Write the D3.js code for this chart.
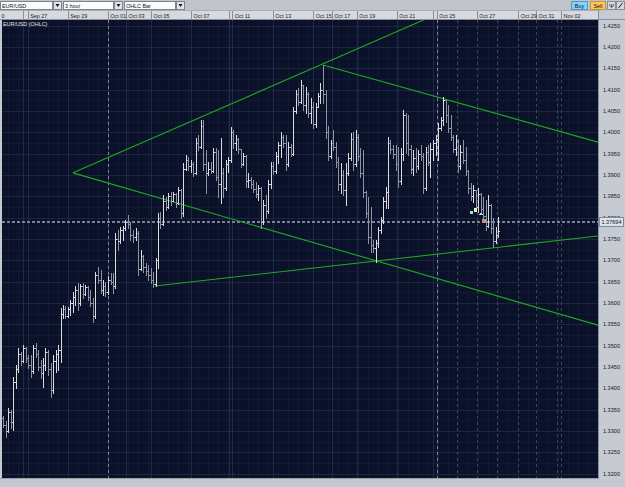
<!DOCTYPE html>
<html><head><meta charset="utf-8">
<script src="https://cdn.jsdelivr.net/npm/d3@7"></script>
<style>body{margin:0;background:#c4c8d0;}svg{display:block;font-family:"Liberation Sans",Arial,sans-serif;}</style>
</head><body><svg id="c" width="625" height="487"></svg>
<script>
// ---- data (EUR/USD, 3 hour OHLC) ----
const opens=[1.3330,1.3315,1.3300,1.3345,1.3320,1.3415,1.3445,1.3480,1.3465,1.3495,1.3470,1.3455,1.3440,1.3495,1.3480,1.3450,1.3435,1.3455,1.3485,1.3445,1.3395,1.3465,1.3480,1.3490,1.3575,1.3585,1.3570,1.3585,1.3600,1.3615,1.3630,1.3600,1.3640,1.3620,1.3638,1.3615,1.3600,1.3570,1.3665,1.3655,1.3630,1.3640,1.3625,1.3655,1.3650,1.3640,1.3750,1.3745,1.3770,1.3775,1.3790,1.3785,1.3760,1.3755,1.3765,1.3680,1.3710,1.3685,1.3675,1.3665,1.3655,1.3645,1.3700,1.3800,1.3785,1.3840,1.3825,1.3850,1.3840,1.3855,1.3835,1.3865,1.3810,1.3915,1.3935,1.3920,1.3925,1.3905,1.3975,1.3965,1.4015,1.3925,1.3905,1.3915,1.3910,1.3955,1.3895,1.3880,1.3905,1.3870,1.3925,1.3935,1.4000,1.3975,1.3985,1.3960,1.3925,1.3945,1.3885,1.3888,1.3878,1.3868,1.3855,1.3870,1.3790,1.3830,1.3815,1.3880,1.3920,1.3910,1.3945,1.3970,1.3990,1.3975,1.3925,1.3965,1.3950,1.4050,1.4090,1.4070,1.4110,1.4065,1.4090,1.4045,1.4060,1.4020,1.4060,1.4085,1.4100,1.4090,1.4000,1.3945,1.3975,1.3965,1.3930,1.3880,1.3900,1.3865,1.3905,1.3940,1.3985,1.3925,1.3990,1.3945,1.3905,1.3860,1.3810,1.3755,1.3735,1.3728,1.3740,1.3770,1.3795,1.3840,1.3860,1.3975,1.3960,1.3950,1.3925,1.3885,1.3950,1.4040,1.3975,1.3960,1.3915,1.3940,1.3920,1.3950,1.3945,1.3870,1.3955,1.3930,1.3960,1.3975,1.3985,1.4010,1.4030,1.4075,1.4040,1.4010,1.3990,1.3960,1.3980,1.3920,1.3955,1.3935,1.3910,1.3870,1.3850,1.3865,1.3825,1.3855,1.3820,1.3805,1.3780,1.3830,1.3775,1.3745,1.3760];
const highs=[1.3335,1.3323,1.3354,1.3349,1.3426,1.3455,1.3495,1.3485,1.3502,1.3498,1.3479,1.3479,1.3502,1.3506,1.3490,1.3467,1.3471,1.3495,1.3490,1.3460,1.3479,1.3490,1.3502,1.3588,1.3595,1.3593,1.3590,1.3607,1.3626,1.3640,1.3647,1.3645,1.3647,1.3642,1.3640,1.3631,1.3612,1.3673,1.3685,1.3678,1.3654,1.3650,1.3664,1.3671,1.3671,1.3764,1.3771,1.3778,1.3780,1.3795,1.3806,1.3790,1.3771,1.3776,1.3768,1.3724,1.3712,1.3694,1.3689,1.3682,1.3673,1.3706,1.3811,1.3813,1.3853,1.3848,1.3858,1.3860,1.3860,1.3858,1.3872,1.3868,1.3928,1.3947,1.3942,1.3935,1.3930,1.3987,1.3994,1.4029,1.4029,1.3959,1.3930,1.3930,1.3963,1.3963,1.3959,1.3987,1.3916,1.3935,1.3942,1.4013,1.4006,1.3994,1.3987,1.3962,1.3952,1.3947,1.3905,1.3895,1.3888,1.3884,1.3877,1.3872,1.3841,1.3853,1.3888,1.3930,1.3930,1.3954,1.3977,1.4001,1.3994,1.3994,1.3977,1.3973,1.4059,1.4099,1.4104,1.4123,1.4111,1.4106,1.4095,1.4080,1.4071,1.4069,1.4092,1.4116,1.4158,1.4099,1.4015,1.3982,1.4006,1.3977,1.3942,1.3928,1.3912,1.3928,1.3951,1.3998,1.4001,1.4006,1.3995,1.3963,1.3959,1.3862,1.3848,1.3825,1.3748,1.3748,1.3778,1.3801,1.3848,1.3872,1.3989,1.3982,1.3970,1.3970,1.3966,1.3963,1.4052,1.4045,1.4041,1.3970,1.3959,1.3963,1.3959,1.3970,1.3952,1.3966,1.3970,1.3975,1.3982,1.3994,1.4022,1.4036,1.4083,1.4076,1.4064,1.4041,1.3994,1.3994,1.3985,1.3970,1.3982,1.3966,1.3912,1.3881,1.3877,1.3866,1.3870,1.3858,1.3848,1.3841,1.3853,1.3832,1.3799,1.3778,1.3801];
const lows=[1.3310,1.3286,1.3298,1.3307,1.3302,1.3401,1.3438,1.3455,1.3462,1.3462,1.3448,1.3427,1.3436,1.3474,1.3443,1.3425,1.3404,1.3443,1.3432,1.3380,1.3390,1.3438,1.3443,1.3462,1.3565,1.3565,1.3567,1.3572,1.3579,1.3595,1.3584,1.3596,1.3612,1.3618,1.3607,1.3593,1.3556,1.3566,1.3647,1.3624,1.3619,1.3616,1.3622,1.3645,1.3624,1.3636,1.3724,1.3740,1.3748,1.3771,1.3776,1.3748,1.3743,1.3748,1.3666,1.3678,1.3673,1.3666,1.3654,1.3647,1.3637,1.3640,1.3682,1.3776,1.3782,1.3818,1.3823,1.3830,1.3838,1.3825,1.3832,1.3799,1.3805,1.3912,1.3912,1.3907,1.3898,1.3902,1.3959,1.3963,1.3912,1.3858,1.3900,1.3905,1.3907,1.3888,1.3848,1.3834,1.3848,1.3865,1.3907,1.3930,1.3963,1.3959,1.3952,1.3919,1.3923,1.3872,1.3872,1.3870,1.3860,1.3848,1.3841,1.3776,1.3785,1.3799,1.3812,1.3870,1.3902,1.3905,1.3928,1.3942,1.3966,1.3912,1.3920,1.3944,1.3946,1.4045,1.4064,1.4069,1.4052,1.4045,1.4036,1.4022,1.4011,1.4013,1.4059,1.4069,1.4069,1.3987,1.3935,1.3940,1.3959,1.3919,1.3865,1.3858,1.3853,1.3830,1.3900,1.3935,1.3912,1.3920,1.3935,1.3895,1.3848,1.3801,1.3741,1.3720,1.3720,1.3697,1.3731,1.3765,1.3787,1.3823,1.3823,1.3952,1.3940,1.3912,1.3872,1.3880,1.3935,1.3952,1.3947,1.3905,1.3900,1.3907,1.3915,1.3935,1.3858,1.3865,1.3923,1.3895,1.3935,1.3947,1.3935,1.4006,1.4017,1.4024,1.4001,1.3982,1.3954,1.3947,1.3907,1.3915,1.3928,1.3900,1.3858,1.3841,1.3837,1.3818,1.3813,1.3811,1.3795,1.3771,1.3778,1.3764,1.3731,1.3740,1.3755];
const closes=[1.3315,1.3300,1.3345,1.3320,1.3415,1.3445,1.3480,1.3465,1.3495,1.3470,1.3455,1.3440,1.3495,1.3480,1.3450,1.3435,1.3455,1.3485,1.3445,1.3395,1.3465,1.3480,1.3490,1.3575,1.3585,1.3570,1.3585,1.3600,1.3615,1.3630,1.3600,1.3640,1.3620,1.3638,1.3615,1.3600,1.3570,1.3665,1.3655,1.3630,1.3640,1.3625,1.3655,1.3650,1.3640,1.3750,1.3745,1.3770,1.3775,1.3790,1.3785,1.3760,1.3755,1.3765,1.3680,1.3710,1.3685,1.3675,1.3665,1.3655,1.3645,1.3700,1.3800,1.3785,1.3840,1.3825,1.3850,1.3840,1.3855,1.3835,1.3865,1.3810,1.3915,1.3935,1.3920,1.3925,1.3905,1.3975,1.3965,1.4015,1.3925,1.3905,1.3915,1.3910,1.3955,1.3895,1.3880,1.3905,1.3870,1.3925,1.3935,1.4000,1.3975,1.3985,1.3960,1.3925,1.3945,1.3885,1.3888,1.3878,1.3868,1.3855,1.3870,1.3790,1.3830,1.3815,1.3880,1.3920,1.3910,1.3945,1.3970,1.3990,1.3975,1.3925,1.3965,1.3950,1.4050,1.4090,1.4070,1.4110,1.4065,1.4090,1.4045,1.4060,1.4020,1.4060,1.4085,1.4100,1.4090,1.4000,1.3945,1.3975,1.3965,1.3930,1.3880,1.3900,1.3865,1.3905,1.3940,1.3985,1.3925,1.3990,1.3945,1.3905,1.3860,1.3810,1.3755,1.3735,1.3728,1.3740,1.3770,1.3795,1.3840,1.3860,1.3975,1.3960,1.3950,1.3925,1.3885,1.3950,1.4040,1.3975,1.3960,1.3915,1.3940,1.3920,1.3950,1.3945,1.3870,1.3955,1.3930,1.3960,1.3975,1.3985,1.4010,1.4030,1.4075,1.4040,1.4010,1.3990,1.3960,1.3980,1.3920,1.3955,1.3935,1.3910,1.3870,1.3850,1.3865,1.3825,1.3855,1.3820,1.3805,1.3780,1.3830,1.3775,1.3745,1.3760,1.3769];

// time axis: bar-slot positions of the date ticks (3-hour bars, weekends removed)
const tickLabels=["0","Sep 26","Sep 27","Sep 29","Oct 01","Oct 03","Oct 05","Oct 07","Oct 09","Oct 11","Oct 13","Oct 15","Oct 17","Oct 19","Oct 21","Oct 23","Oct 25","Oct 27","Oct 29","Oct 31","Nov 02"];
const tickSlots=[-1.6,7.9,9.9,25.9,41.9,49.2,59.2,75.2,90.3,91.7,107.9,124.1,131.5,141.5,157.5,172.1,173.5,189.5,206.1,213.2,223.2];
const separatorLabels=["Oct 01","Oct 25"];
const extraDaySlots=[181.5,197.5,221.5];

// price axis
const priceLabels=["1.4250","1.4200","1.4150","1.4100","1.4050","1.4000","1.3950","1.3900","1.3850","1.3800","1.3750","1.3700","1.3650","1.3600","1.3550","1.3500","1.3450","1.3400","1.3350","1.3300","1.3250","1.3200"];
const priceLineLevel=1.3790, lastPriceText="1.37694";

// drawn trend lines (slot, price) -> (slot, price)
const trendFromSlot=[28,28,60.8,128];
const trendFromPrice=[1.3905,1.3905,1.3640,1.4158];
const trendToSlot=[170.8,238,238,238];
const trendToPrice=[1.4270,1.3548,1.3757,1.3977];

// trade markers
const markerSlots=[187.2,188.8,191.2,192.4];
const markerPrices=[1.3813,1.3818,1.3809,1.3792];
const markerKinds=["buy","order","close","sell"];

// ---- drawing ----
const svg=d3.select("#c");
const P={l:2,r:598,t:20,b:478};
const x=d3.scaleLinear().domain([-0.4,238]).range([P.l,P.r]);
const y=d3.scaleLinear().domain([1.3750,1.4250]).range([239,25.67]);

svg.append("rect").attr("width",625).attr("height",487).attr("fill","#c4c8d0");
svg.append("defs").append("clipPath").attr("id","pc").append("rect")
  .attr("x",P.l).attr("y",P.t).attr("width",P.r-P.l).attr("height",P.b-P.t);
const g=svg.append("g").attr("clip-path","url(#pc)").attr("shape-rendering","crispEdges");
g.append("rect").attr("x",P.l).attr("y",P.t).attr("width",P.r-P.l).attr("height",P.b-P.t).attr("fill","#0a1128");

// minor grid
const minorV=d3.range(-2,240,4);
g.selectAll(".mv").data(minorV).join("line").attr("x1",d=>Math.round(x(d))+0.5).attr("x2",d=>Math.round(x(d))+0.5)
  .attr("y1",P.t).attr("y2",P.b).attr("stroke","#111a33");
const minorH=d3.range(1.3175,1.4300,0.0025);
g.selectAll(".mh").data(minorH).join("line").attr("y1",d=>Math.round(y(d))+0.5).attr("y2",d=>Math.round(y(d))+0.5)
  .attr("x1",P.l).attr("x2",P.r).attr("stroke","#111a33");
// major grid
const yTickVals=priceLabels.map(Number);
g.selectAll(".gh").data(yTickVals).join("line").attr("y1",d=>Math.round(y(d))+0.5).attr("y2",d=>Math.round(y(d))+0.5)
  .attr("x1",P.l).attr("x2",P.r).attr("stroke","#1a2542");
const lastSep=tickSlots[tickLabels.indexOf("Oct 25")];
g.selectAll(".gv").data(tickSlots.filter((s,i)=>i>0)).join("line")
  .attr("x1",d=>Math.round(x(d))+0.5).attr("x2",d=>Math.round(x(d))+0.5)
  .attr("y1",P.t).attr("y2",P.b).attr("stroke",d=>d>lastSep?"#3a4560":"#1f2a48")
  .attr("stroke-dasharray",d=>d>lastSep?"3,3":null);
g.selectAll(".gd").data(extraDaySlots).join("line")
  .attr("x1",d=>Math.round(x(d))+0.5).attr("x2",d=>Math.round(x(d))+0.5)
  .attr("y1",P.t).attr("y2",P.b).attr("stroke","#3a4560").attr("stroke-dasharray","3,3");
// separators
g.selectAll(".sep").data(separatorLabels.map(l=>tickSlots[tickLabels.indexOf(l)])).join("line")
  .attr("x1",d=>Math.round(x(d))+0.5).attr("x2",d=>Math.round(x(d))+0.5)
  .attr("y1",P.t).attr("y2",P.b).attr("stroke","#7f8698").attr("stroke-dasharray","3,3");
// price line
g.append("line").attr("x1",P.l).attr("x2",P.r).attr("y1",Math.round(y(priceLineLevel))).attr("y2",Math.round(y(priceLineLevel)))
  .attr("stroke","#7c8296").attr("stroke-width",2).attr("stroke-dasharray","3,2");

// trend lines
const tl=g.append("g").attr("shape-rendering","auto");
trendFromSlot.forEach((s,i)=>{
  tl.append("line").attr("x1",x(s)).attr("y1",y(trendFromPrice[i])).attr("x2",x(trendToSlot[i])).attr("y2",y(trendToPrice[i]))
    .attr("stroke","#22a622").attr("stroke-width",1.1);
});

// OHLC bars
const bars=opens.map((o,i)=>({i,o,h:highs[i],l:lows[i],c:closes[i]}));
const bg=g.append("g");
bars.forEach(d=>{
  const xi=Math.round(x(d.i))+0.5;
  const col=d.c>=d.o?"#dcdcdf":"#8e95a2";
  bg.append("line").attr("x1",xi).attr("x2",xi).attr("y1",Math.round(y(d.h))).attr("y2",Math.round(y(d.l))+1).attr("stroke",col);
  bg.append("line").attr("x1",xi-1.5).attr("x2",xi).attr("y1",Math.round(y(d.o))+0.5).attr("y2",Math.round(y(d.o))+0.5).attr("stroke",col);
  bg.append("line").attr("x1",xi).attr("x2",xi+1.5).attr("y1",Math.round(y(d.c))+0.5).attr("y2",Math.round(y(d.c))+0.5).attr("stroke",col);
});

// markers
const mk=g.append("g");
markerSlots.forEach((s,i)=>{
  const cx=x(s), cy=y(markerPrices[i]), k=markerKinds[i];
  if(k==="buy") mk.append("rect").attr("x",cx-1.5).attr("y",cy-1.5).attr("width",3).attr("height",3).attr("fill","#8fe6f6");
  if(k==="order") mk.append("rect").attr("x",cx-1.5).attr("y",cy-1.5).attr("width",3.5).attr("height",3.5).attr("fill","#f6f2a8");
  if(k==="close") mk.append("path").attr("d",`M${cx},${cy-2}L${cx+2.2},${cy+1.5}L${cx-2.2},${cy+1.5}Z`).attr("fill","#8fe6f6");
  if(k==="sell") mk.append("circle").attr("cx",cx).attr("cy",cy).attr("r",2.2).attr("fill","#d08a8a");
});

g.append("text").attr("x",3).attr("y",25.5).attr("font-size",5.4).attr("fill","#e8e8ee").text("EUR/USD (OHLC)");

// ---- chrome ----
svg.append("rect").attr("x",0).attr("y",P.t).attr("width",P.l).attr("height",P.b-P.t).attr("fill","#c4c8d0");
svg.append("rect").attr("x",0).attr("y",P.b).attr("width",625).attr("height",487-P.b).attr("fill","#c4c8d0");
svg.append("line").attr("x1",0).attr("x2",P.r).attr("y1",P.b+0.5).attr("y2",P.b+0.5).attr("stroke","#9aa0aa");

// time axis row
const ta=svg.append("g").attr("shape-rendering","crispEdges");
ta.append("rect").attr("x",0).attr("y",10).attr("width",P.r).attr("height",10).attr("fill","#d6d9df");
ta.append("line").attr("x1",0).attr("x2",625).attr("y1",19.5).attr("y2",19.5).attr("stroke","#8a9098");
ta.append("line").attr("x1",0).attr("x2",625).attr("y1",10.5).attr("y2",10.5).attr("stroke","#a8adb6");
const tks=tickSlots.map((s,i)=>({s,label:tickLabels[i],px:x(s)}));
ta.selectAll(".ts").data(tks).join("line").attr("x1",d=>Math.round(d.px)+0.5).attr("x2",d=>Math.round(d.px)+0.5)
  .attr("y1",11).attr("y2",19).attr("stroke","#8a9098");
ta.selectAll(".tt").data(tks.filter((d,i)=>i===tks.length-1||tks[i+1].px-d.px>=12)).join("text")
  .attr("x",d=>d.px+2.5).attr("y",17.6).attr("font-size",5.4).attr("fill","#1a1a1a").text(d=>d.label);

// price axis column
const pa=svg.append("g");
pa.append("rect").attr("x",P.r).attr("y",10).attr("width",625-P.r).attr("height",P.b-10+1).attr("fill","#c6cad2");
pa.append("line").attr("x1",P.r+0.5).attr("x2",P.r+0.5).attr("y1",10).attr("y2",P.b+1).attr("stroke","#8a9098").attr("shape-rendering","crispEdges");
pa.append("line").attr("x1",P.r).attr("x2",625).attr("y1",19.5).attr("y2",19.5).attr("stroke","#8a9098").attr("shape-rendering","crispEdges");
pa.selectAll(".pt").data(priceLabels).join("text").attr("x",611.5).attr("y",d=>y(+d)+2).attr("text-anchor","middle")
  .attr("font-size",5.6).attr("fill","#1a1a1a").text(d=>d);
const py=Math.round(y(priceLineLevel));
pa.append("rect").attr("x",599.5).attr("y",py-4.5).attr("width",24).attr("height",9).attr("fill","#dde1e8").attr("stroke","#7d8aa6");
pa.append("text").attr("x",611.5).attr("y",py+2).attr("text-anchor","middle").attr("font-size",5.6).attr("fill","#1a1a1a").text(lastPriceText);

// toolbar
const tb=svg.append("g").attr("shape-rendering","crispEdges");
tb.append("rect").attr("x",0).attr("y",0).attr("width",625).attr("height",10).attr("fill","#c0c4cc");
const combos=[{x:0,w:52,t:"EUR/USD"},{x:63,w:50,t:"3 hour"},{x:124,w:51,t:"OHLC Bar"}];
combos.forEach(c=>{
  tb.append("rect").attr("x",c.x+0.5).attr("y",1.5).attr("width",c.w).attr("height",7.5).attr("fill","#fbfbfb").attr("stroke","#7f848c");
  tb.append("text").attr("x",c.x+2).attr("y",7.6).attr("font-size",5.4).attr("fill","#111").text(c.t);
  const bx=c.x+c.w+1.5;
  tb.append("rect").attr("x",bx).attr("y",1.5).attr("width",8).attr("height",7.5).attr("fill","#e2e4e8").attr("stroke","#7f848c");
  tb.append("path").attr("d",`M${bx+2},${4}L${bx+6},${4}L${bx+4},${7}Z`).attr("fill","#111").attr("shape-rendering","auto");
});
tb.append("rect").attr("x",571.5).attr("y",1.5).attr("width",16).attr("height",7.5).attr("fill","#82d2f8").attr("stroke","#5c98c0");
tb.append("text").attr("x",579.5).attr("y",7.6).attr("text-anchor","middle").attr("font-size",5.4).attr("fill","#112").text("Buy");
tb.append("rect").attr("x",590.5).attr("y",1.5).attr("width",15).attr("height",7.5).attr("fill","#fcc75c").attr("stroke","#bf9340");
tb.append("text").attr("x",598).attr("y",7.6).attr("text-anchor","middle").attr("font-size",5.4).attr("fill","#211").text("Sell");
tb.append("rect").attr("x",607.5).attr("y",1.5).attr("width",8).attr("height",7.5).attr("fill","#d4d7dc").attr("stroke","#8a8f96");
tb.append("text").attr("x",611.5).attr("y",7.8).attr("text-anchor","middle").attr("font-size",6).attr("fill","#222").text("Ψ");
tb.append("rect").attr("x",616.5).attr("y",1.5).attr("width",8).attr("height",7.5).attr("fill","#d4d7dc").attr("stroke","#8a8f96");
tb.append("line").attr("x1",618.5).attr("y1",8).attr("x2",622.5).attr("y2",3).attr("stroke","#222").attr("shape-rendering","auto");
</script></body></html>
